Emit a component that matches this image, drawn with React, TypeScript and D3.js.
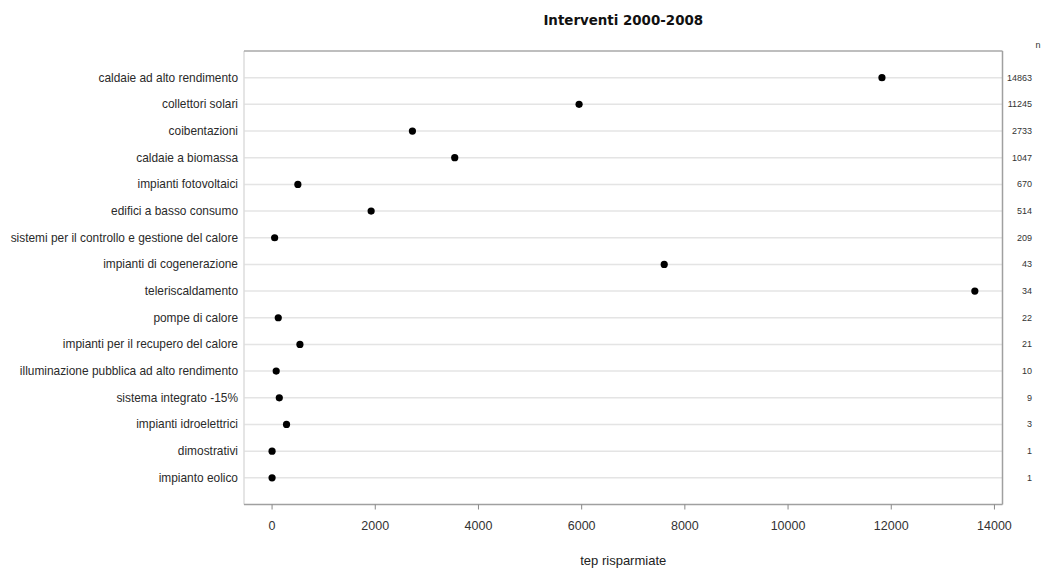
import React from "react";
import * as d3 from "d3";

const categories: string[] = [
  "caldaie ad alto rendimento",
  "collettori solari",
  "coibentazioni",
  "caldaie a biomassa",
  "impianti fotovoltaici",
  "edifici a basso consumo",
  "sistemi per il controllo e gestione del calore",
  "impianti di cogenerazione",
  "teleriscaldamento",
  "pompe di calore",
  "impianti per il recupero del calore",
  "illuminazione pubblica ad alto rendimento",
  "sistema integrato -15%",
  "impianti idroelettrici",
  "dimostrativi",
  "impianto eolico",
];
const tepValues: number[] = [11820, 5950, 2720, 3540, 500, 1920, 50, 7600, 13620, 120, 540, 80, 140, 280, 0, 0];
const counts: string[] = ["14863", "11245", "2733", "1047", "670", "514", "209", "43", "34", "22", "21", "10", "9", "3", "1", "1"];
const xTicks: number[] = [0, 2000, 4000, 6000, 8000, 10000, 12000, 14000];
const title = "Interventi 2000-2008";
const xLabel = "tep risparmiate";
const countHeader = "n";

export default function App() {
  const W = 1043, H = 570;
  const left = 244, right = 1002.5, top = 51, bottom = 504.5;
  const x = d3.scaleLinear().domain([-544, 14156]).range([left, right]);
  const y = d3.scalePoint<string>().domain(categories).range([top, bottom]).padding(1);
  const font = "Liberation Sans, Arial, Helvetica, sans-serif";
  return (
    <svg width={W} height={H} style={{ position: "absolute", left: 0, top: 0 }} fontFamily={font}>
      <rect width={W} height={H} fill="#fff" />
      <text x={(left + right) / 2} y={25} textAnchor="middle" fontSize={13.4} fontWeight="bold" fontFamily="DejaVu Sans, sans-serif" fill="#111">{title}</text>
      {categories.map((c) => (
        <line key={"g" + c} x1={left} x2={right} y1={y(c)} y2={y(c)} stroke="#e4e4e4" strokeWidth={1.5} />
      ))}
      {/* box */}
      <line x1={left} x2={left} y1={top} y2={bottom} stroke="#dcdcdc" strokeWidth={1.5} />
      <line x1={left} x2={right} y1={top} y2={top} stroke="#a8a8a8" strokeWidth={1.5} />
      <line x1={right} x2={right} y1={top} y2={bottom} stroke="#a0a0a0" strokeWidth={1.5} />
      <line x1={left} x2={right} y1={bottom} y2={bottom} stroke="#a0a0a0" strokeWidth={1.5} />
      {categories.map((c) => (
        <text key={"l" + c} x={left - 6} y={(y(c) as number) + 4} textAnchor="end" fontSize={11.9} fill="#2a2a2a">{c}</text>
      ))}
      {categories.map((c, i) => (
        <circle key={"p" + c} cx={x(tepValues[i])} cy={y(c)} r={3.6} fill="#000" />
      ))}
      <text x={1038} y={48} textAnchor="middle" fontSize={9} fill="#333">{countHeader}</text>
      {categories.map((c, i) => (
        <text key={"n" + c} x={1032} y={(y(c) as number) + 3} textAnchor="end" fontSize={9} fill="#333">{counts[i]}</text>
      ))}
      {xTicks.map((t) => (
        <g key={"t" + t}>
          <line x1={x(t)} x2={x(t)} y1={bottom} y2={bottom + 5} stroke="#888" strokeWidth={1} />
          <text x={x(t)} y={530} textAnchor="middle" fontSize={12.5} fill="#333">{t}</text>
        </g>
      ))}
      <text x={(left + right) / 2} y={565} textAnchor="middle" fontSize={13} fill="#222">{xLabel}</text>
    </svg>
  );
}
